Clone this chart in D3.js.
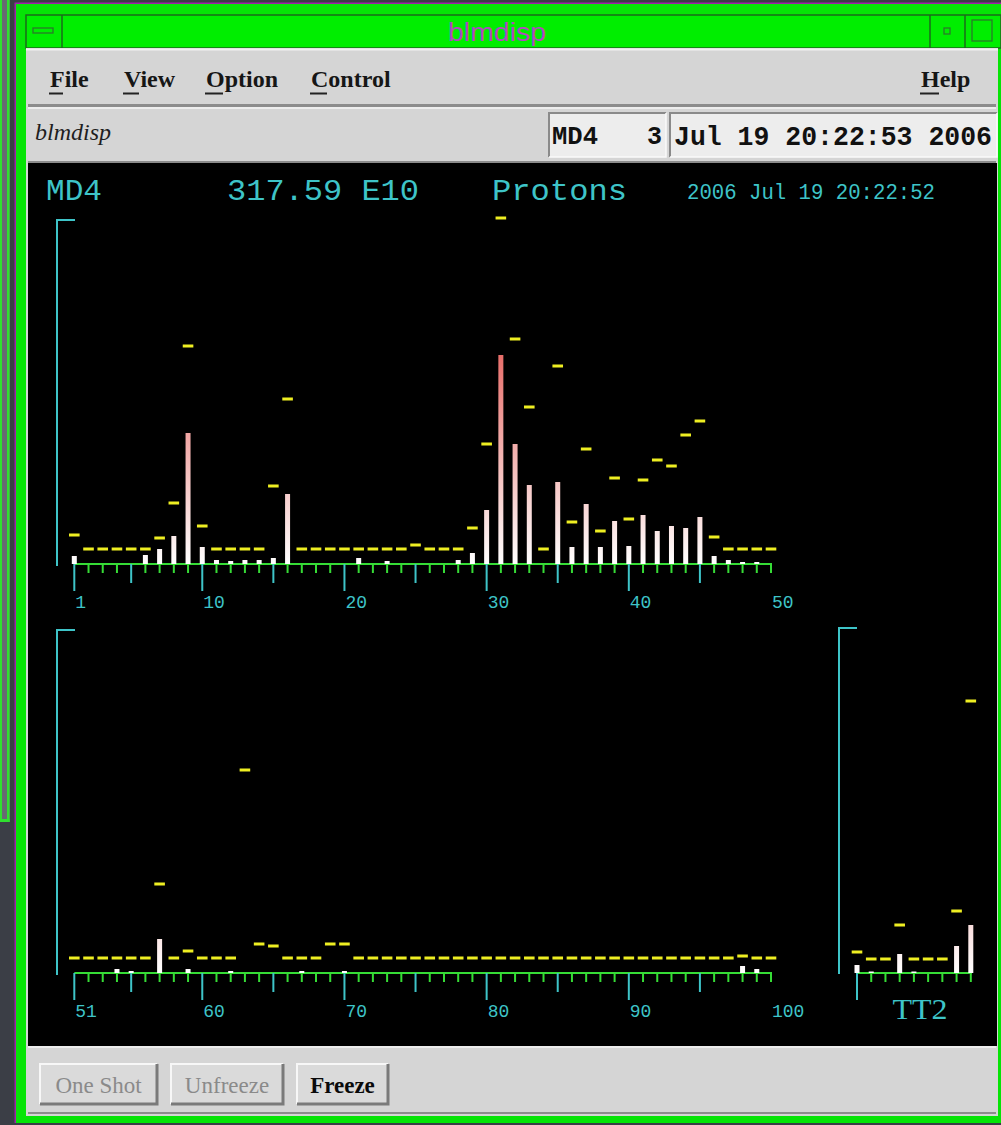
<!DOCTYPE html>
<html><head><meta charset="utf-8">
<script src="https://cdn.jsdelivr.net/npm/d3@7"></script>
<style>body{margin:0;background:#3b3e46;overflow:hidden}svg{display:block}</style>
</head><body><svg id="c" width="1001" height="1125"></svg>
<script>
// ---------------- DATA ----------------
const topChannels = d3.range(1, 51);
const topLosses = [8,0,0,0,0,9,15,28,131,17, 4,3,4,4,6,70,0,0,0,0, 6,0,3,0,0,0,0,4,11,54,
                   209,120,79,0,82,17,60,17,43,18, 49,33,38,36,47,8,4,2,2,0];
const topThresholds = [29,15,15,15,15,15,26,61,218,38, 15,15,15,15,78,165,15,15,15,15,
                       15,15,15,15,19,15,15,15,36,120, 346,225,157,15,198,42,115,33,86,45,
                       84,104,98,129,143,27,15,15,15,15];
const topTickLabels = [1,10,20,30,40,50];

const bottomChannels = d3.range(51, 101);
const bottomLosses = [0,0,0,4,2,0,34,0,4,0, 0,2,0,0,0,0,2,0,0,2, 0,0,0,0,0,0,0,0,0,0,
                      0,0,0,0,0,0,0,0,0,0, 0,0,0,0,0,0,0,7,4,0];
const bottomThresholds = [15,15,15,15,15,15,89,15,22,15, 15,15,203,29,27,15,15,15,29,29,
                          15,15,15,15,15,15,15,15,15,15, 15,15,15,15,15,15,15,15,15,15,
                          15,15,15,15,15,15,15,17,15,15];
const bottomTickLabels = [51,60,70,80,90,100];

const tt2Channels = [1,2,3,4,5,6,7,8,9];
const tt2Losses = [8,1.5,0,19,1.5,0,0,27,48];
const tt2Thresholds = [21,14,14,48,14,14,14,62,272];

const menuItems = ["File","View","Option","Control"];
const buttons = ["One Shot","Unfreeze","Freeze"];

// ---------------- DRAW ----------------
const svg = d3.select("#c");
const CYAN = "#3ec4c8", GREEN = "#36dc36", YEL = "#eeee22";
const defs = svg.append("defs");

// background window fragments / frame
svg.append("rect").attr("x",0).attr("y",0).attr("width",1001).attr("height",1125).attr("fill","#3b3e46");
svg.append("rect").attr("x",0).attr("y",0).attr("width",10).attr("height",822).attr("fill","#676a72");
svg.append("rect").attr("x",0).attr("y",0).attr("width",2).attr("height",822).attr("fill","#2fe02f");
svg.append("rect").attr("x",7).attr("y",0).attr("width",2.5).attr("height",822).attr("fill","#2fe02f");
svg.append("rect").attr("x",0).attr("y",819).attr("width",9.5).attr("height",3).attr("fill","#2fe02f");
svg.append("rect").attr("x",14.5).attr("y",2.5).attr("width",986.5).attr("height",1121).attr("fill","#a020a8");
svg.append("rect").attr("x",16).attr("y",4).attr("width",985).attr("height",1119).attr("fill","#06e406");
svg.append("rect").attr("x",0).attr("y",1123).attr("width",1001).attr("height",2).attr("fill","#3b3e46");

// title bar
svg.append("rect").attr("x",26).attr("y",15).attr("width",975).attr("height",33)
  .attr("fill","#00ee00").attr("stroke","#1b6a1b").attr("stroke-width",1.5);
[62,930,965].forEach(x=>svg.append("line").attr("x1",x).attr("x2",x).attr("y1",15).attr("y2",48)
  .attr("stroke","#1b6a1b").attr("stroke-width",1.5));
svg.append("rect").attr("x",33).attr("y",28).attr("width",20).attr("height",5).attr("fill","none").attr("stroke","#2a7a2a").attr("stroke-width",1.3);
svg.append("rect").attr("x",944).attr("y",28).attr("width",6).attr("height",6).attr("fill","none").attr("stroke","#2a7a2a").attr("stroke-width",1.3);
svg.append("rect").attr("x",972).attr("y",20).attr("width",20).attr("height",21).attr("fill","none").attr("stroke","#2a7a2a").attr("stroke-width",1.3);
svg.append("text").attr("x",497).attr("y",41).attr("text-anchor","middle")
  .attr("font-family","Liberation Sans, Arial, sans-serif").attr("font-size",25)
  .attr("textLength",98).attr("lengthAdjust","spacingAndGlyphs").attr("fill","#b14ac0").text("blmdisp");

// window body gray
svg.append("rect").attr("x",26).attr("y",48).attr("width",972).attr("height",1068).attr("fill","#d5d5d5");
svg.append("line").attr("x1",26).attr("x2",998).attr("y1",49.5).attr("y2",49.5).attr("stroke","#f2f2f2").attr("stroke-width",2);
svg.append("line").attr("x1",28).attr("x2",996).attr("y1",105.5).attr("y2",105.5).attr("stroke","#8c8c8c").attr("stroke-width",3);
svg.append("line").attr("x1",28).attr("x2",996).attr("y1",108).attr("y2",108).attr("stroke","#f4f4f4").attr("stroke-width",1.5);

// menu
const menuX = [50,124,206,311];
const menuW = [14,16,18,17];
menuItems.forEach((m,i)=>{
  svg.append("text").attr("x",menuX[i]).attr("y",87).attr("font-family","Liberation Serif, Times New Roman, serif")
    .attr("font-weight","bold").attr("font-size",24).attr("fill","#161616").text(m);
  svg.append("rect").attr("x",menuX[i]-1).attr("y",92.5).attr("width",menuW[i]).attr("height",2).attr("fill","#222");
});
svg.append("text").attr("x",921).attr("y",87).attr("font-family","Liberation Serif, Times New Roman, serif")
  .attr("font-weight","bold").attr("font-size",24).attr("fill","#161616").text("Help");
svg.append("rect").attr("x",920).attr("y",92.5).attr("width",19).attr("height",2).attr("fill","#222");

// status row
svg.append("text").attr("x",35).attr("y",140).attr("font-family","Liberation Serif, Times New Roman, serif")
  .attr("font-style","italic").attr("font-size",24).attr("fill","#1e1e1e").text("blmdisp");
function field(x,w){
  svg.append("rect").attr("x",x).attr("y",113).attr("width",w).attr("height",44).attr("fill","#ededed");
  svg.append("path").attr("d",`M${x},157V113H${x+w}`).attr("fill","none").attr("stroke","#8a8a8a").attr("stroke-width",2);
  svg.append("path").attr("d",`M${x+w},113V157H${x}`).attr("fill","none").attr("stroke","#fafafa").attr("stroke-width",1.5);
}
field(549,117); field(670,327);
const mono = "Liberation Mono, DejaVu Sans Mono, monospace";
svg.append("text").attr("x",552).attr("y",144).attr("font-family",mono).attr("font-weight","bold")
  .attr("font-size",25).attr("textLength",46).attr("lengthAdjust","spacingAndGlyphs").attr("fill","#111").text("MD4");
svg.append("text").attr("x",662).attr("y",144).attr("text-anchor","end").attr("font-family",mono).attr("font-weight","bold")
  .attr("font-size",25).attr("fill","#111").text("3");
svg.append("text").attr("x",674).attr("y",145).attr("font-family",mono).attr("font-weight","bold")
  .attr("font-size",27).attr("textLength",318).attr("lengthAdjust","spacingAndGlyphs").attr("fill","#111").text("Jul 19 20:22:53 2006");
svg.append("line").attr("x1",28).attr("x2",996).attr("y1",162).attr("y2",162).attr("stroke","#8c8c8c").attr("stroke-width",2);

// chart area
svg.append("rect").attr("x",28).attr("y",163).attr("width",969).attr("height",883).attr("fill","#000");

// chart header
const hdr = [["MD4",46,56],["317.59 E10",227,192],["Protons",492,135]];
hdr.forEach(h=>svg.append("text").attr("x",h[1]).attr("y",200).attr("font-family",mono).attr("font-size",30)
  .attr("textLength",h[2]).attr("lengthAdjust","spacingAndGlyphs").attr("fill",CYAN).text(h[0]));
svg.append("text").attr("x",687).attr("y",199).attr("font-family",mono).attr("font-size",22)
  .attr("textLength",248).attr("lengthAdjust","spacingAndGlyphs").attr("fill",CYAN).text("2006 Jul 19 20:22:52");

// panels
function panel(cfg){
  const {channels, losses, thr, x, base, yAxis, tickKind, labels, gid} = cfg;
  const y = d3.scaleLinear().domain([0,350]).range([base, base-350]);
  const g = defs.append("linearGradient").attr("id",gid).attr("gradientUnits","userSpaceOnUse")
    .attr("x1",0).attr("x2",0).attr("y1",base).attr("y2",y(209));
  g.append("stop").attr("offset",0).attr("stop-color","#ffffff");
  g.append("stop").attr("offset",1).attr("stop-color","#e86e6a");
  const G = svg.append("g");
  // y axis bracket
  G.append("path").attr("d",`M${yAxis.x+18},${yAxis.top}H${yAxis.x}V${yAxis.bottom}`)
    .attr("fill","none").attr("stroke",CYAN).attr("stroke-width",2);
  // x axis line
  G.append("line").attr("x1",x(channels[0])).attr("x2",x(channels[channels.length-1])+1)
    .attr("y1",base).attr("y2",base).attr("stroke",GREEN).attr("stroke-width",2);
  const len = {minor:9, medium:19, major:27};
  G.selectAll("line.tk").data(channels).join("line").attr("class","tk")
    .attr("x1",d=>x(d)).attr("x2",d=>x(d)).attr("y1",base).attr("y2",d=>base+len[tickKind(d)])
    .attr("stroke",d=>tickKind(d)==="minor"?GREEN:CYAN).attr("stroke-width",2);
  // bars
  const data = channels.map((c,i)=>({c, v:losses[i], t:thr[i]}));
  G.selectAll("rect.bar").data(data.filter(d=>d.v>0)).join("rect").attr("class","bar")
    .attr("x",d=>x(d.c)-2.5).attr("width",5).attr("y",d=>y(d.v)).attr("height",d=>base-y(d.v))
    .attr("fill",`url(#${gid})`);
  // thresholds
  G.selectAll("rect.thr").data(data).join("rect").attr("class","thr")
    .attr("x",d=>x(d.c)-5.3).attr("width",10.6).attr("y",d=>y(d.t)-1.5).attr("height",3).attr("fill",YEL);
  // labels
  if(labels){
    G.selectAll("text.lb").data(labels).join("text").attr("class","lb")
      .attr("x",d=>x(d)+1).attr("y",base+44).attr("font-family",mono).attr("font-size",18)
      .attr("fill",CYAN).text(d=>d);
  }
  return G;
}

const xTop = d3.scaleLinear().domain([1,50]).range([74.3,771]);
panel({channels:topChannels, losses:topLosses, thr:topThresholds, x:xTop, base:564, gid:"gt",
  yAxis:{x:57, top:220, bottom:566}, labels:topTickLabels,
  tickKind:d=> (d===1 || (d%10===0 && d!==50)) ? "major" : (d%5===0 && d!==50 ? "medium" : "minor")});

const xBot = d3.scaleLinear().domain([51,100]).range([74.3,771]);
panel({channels:bottomChannels, losses:bottomLosses, thr:bottomThresholds, x:xBot, base:973, gid:"gb",
  yAxis:{x:57, top:630, bottom:975}, labels:bottomTickLabels,
  tickKind:d=> (d===51 || (d%10===0 && d!==100)) ? "major" : (d%5===0 && d!==100 ? "medium" : "minor")});

const xTT = d3.scaleLinear().domain([1,9]).range([857,970.8]);
panel({channels:tt2Channels, losses:tt2Losses, thr:tt2Thresholds, x:xTT, base:973, gid:"gtt",
  yAxis:{x:839, top:628, bottom:974}, labels:null,
  tickKind:d=> d===1 ? "major" : "minor"});
svg.append("text").attr("x",920).attr("y",1019).attr("text-anchor","middle")
  .attr("font-family","Liberation Serif, Times New Roman, serif").attr("font-size",29)
  .attr("textLength",55).attr("lengthAdjust","spacingAndGlyphs").attr("fill",CYAN).text("TT2");

// bottom panel
svg.append("line").attr("x1",28).attr("x2",996).attr("y1",1047).attr("y2",1047).attr("stroke","#f4f4f4").attr("stroke-width",1.5);
svg.append("line").attr("x1",28).attr("x2",996).attr("y1",1113).attr("y2",1113).attr("stroke","#8c8c8c").attr("stroke-width",2);
const bx = [40,171,297], bw = [117,112,91];
buttons.forEach((b,i)=>{
  const x0=bx[i], w=bw[i], y0=1064, h=40;
  svg.append("rect").attr("x",x0).attr("y",y0).attr("width",w).attr("height",h).attr("fill","#dadada");
  svg.append("path").attr("d",`M${x0},${y0+h}V${y0}H${x0+w}`).attr("fill","none").attr("stroke","#f7f7f7").attr("stroke-width",2);
  svg.append("path").attr("d",`M${x0+w},${y0}V${y0+h}H${x0}`).attr("fill","none").attr("stroke","#7a7a7a").attr("stroke-width",3);
  svg.append("text").attr("x",x0+w/2).attr("y",y0+29).attr("text-anchor","middle")
    .attr("font-family","Liberation Serif, Times New Roman, serif").attr("font-weight",i===2?"bold":"normal")
    .attr("font-size",23).attr("fill",i===2?"#0a0a0a":"#8a8a8a").text(b);
});
</script></body></html>
